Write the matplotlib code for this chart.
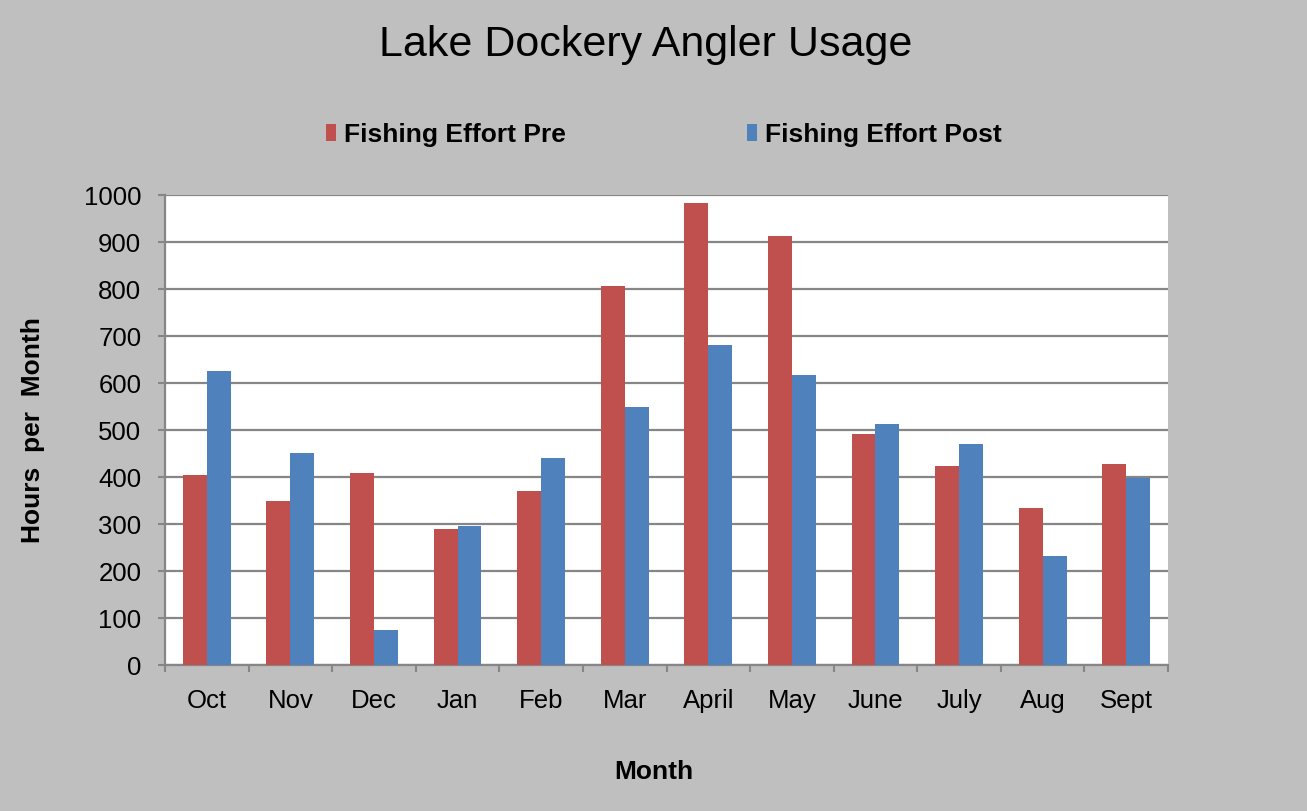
import numpy as np
import matplotlib
matplotlib.use("Agg")
import matplotlib.pyplot as plt

months = ["Oct", "Nov", "Dec", "Jan", "Feb", "Mar", "April", "May", "June", "July", "Aug", "Sept"]
effort_pre = [404, 350, 409, 290, 371, 806, 984, 913, 491, 424, 335, 428]
effort_post = [626, 451, 74, 295, 440, 549, 681, 617, 512, 470, 231, 397]

plt.rcParams['font.family'] = ['Liberation Sans', 'DejaVu Sans']

bg = "#BFBFBF"
grid_col = "#868686"
red = "#C0504D"
blue = "#4F81BD"

fig = plt.figure(figsize=(13.07, 8.11), dpi=100, facecolor=bg)
ax = fig.add_axes([0.1262, 0.18, 0.7675, 0.5795])
ax.set_facecolor("white")

x = np.arange(len(months))
w = 0.286
b1 = ax.bar(x - w / 2, effort_pre, w, color=red, label="Fishing Effort Pre", zorder=3)
b2 = ax.bar(x + w / 2, effort_post, w, color=blue, label="Fishing Effort Post", zorder=3)

ax.set_xlim(-0.5, len(months) - 0.5)
ax.set_ylim(0, 1000)
ax.set_yticks(np.arange(0, 1001, 100))
ax.yaxis.grid(True, color=grid_col, linewidth=1.6, zorder=1)
ax.set_axisbelow(True)

ax.set_xticks(x)
ax.set_xticklabels(months)
ax.set_xticks(np.arange(-0.5, len(months), 1), minor=True)
ax.tick_params(axis="x", which="major", length=0, pad=17, labelsize=18.5)
ax.tick_params(axis="x", which="minor", length=5, width=1.5, color=grid_col, direction="out")
ax.tick_params(axis="y", length=5, width=1.5, color=grid_col, pad=12, labelsize=18.5)

for s in ["top", "right"]:
    ax.spines[s].set_visible(False)
for s in ["left", "bottom"]:
    ax.spines[s].set_color(grid_col)
    ax.spines[s].set_linewidth(1.6)

fig.text(0.494, 0.9445, "Lake Dockery Angler Usage", ha="center", va="center", fontsize=31)
fig.text(0.025, 0.18 + 0.5795 / 2, "Hours  per  Month", rotation=90, ha="center", va="center",
         fontsize=19, fontweight="bold")
fig.text(0.5, 1 - 772 / 811, "Month", ha="center", va="center", fontsize=19, fontweight="bold")

fig.legend(handles=[b1, b2], loc="center", bbox_to_anchor=(0.508, 1 - 135 / 811), ncol=2,
           frameon=False, prop={"weight": "bold", "size": 19}, handlelength=0.4,
           handleheight=0.6, handletextpad=0.3, columnspacing=6.85)

fig.savefig("out.png", dpi=100, facecolor=bg)
